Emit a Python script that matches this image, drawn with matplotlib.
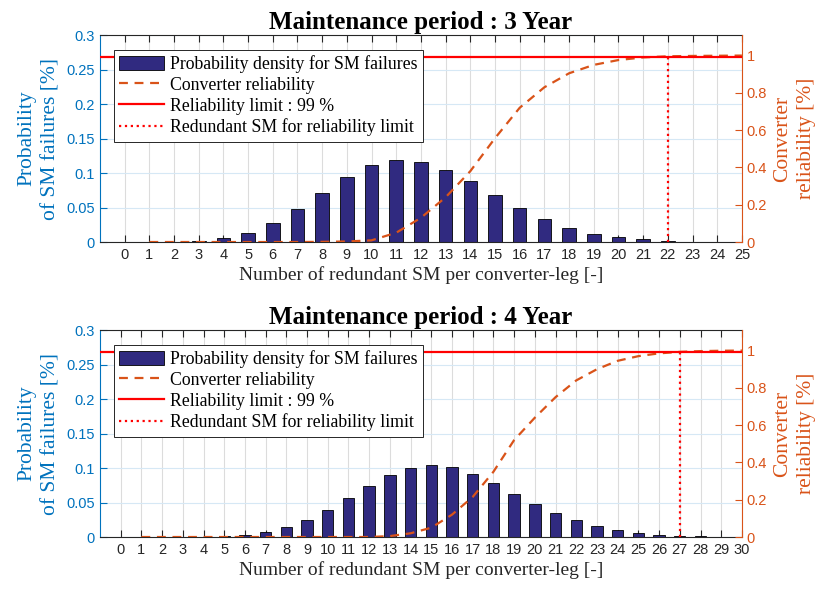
import numpy as np
import matplotlib.pyplot as plt
from matplotlib.lines import Line2D
from matplotlib.patches import Patch

# ---- data ----
titles = ["Maintenance period : 3 Year", "Maintenance period : 4 Year"]

sm_3y = list(range(0, 26))
density_3y = [0.0, 0.0, 0.0002, 0.0012, 0.006, 0.0137, 0.028, 0.048, 0.071, 0.094,
              0.112, 0.1195, 0.1166, 0.105, 0.088, 0.068, 0.049, 0.033, 0.0205, 0.012,
              0.0068, 0.0039, 0.0015, 0.0005, 0.0003, 0.0001]
rel_x_3y = list(range(1, 26))
reliability_3y = [0.0, 0.0, 0.0, 0.0, 0.0, 0.0, 0.0, 0.001, 0.003, 0.009,
                  0.05, 0.13, 0.24, 0.38, 0.557, 0.72, 0.83, 0.905, 0.95, 0.976,
                  0.99, 0.996, 0.998, 0.999, 1.0]

sm_4y = list(range(0, 31))
density_4y = [0.0, 0.0, 0.0, 0.0, 0.0002, 0.001, 0.003, 0.007, 0.014, 0.025,
              0.039, 0.057, 0.074, 0.090, 0.100, 0.104, 0.1015, 0.092, 0.078, 0.063,
              0.048, 0.035, 0.024, 0.0155, 0.0097, 0.0058, 0.0034, 0.0015, 0.0008, 0.0004,
              0.0002]
rel_x_4y = list(range(1, 31))
reliability_4y = [0.0, 0.0, 0.0, 0.0, 0.0, 0.0, 0.0, 0.0, 0.0, 0.0,
                  0.0, 0.0, 0.005, 0.02, 0.05, 0.12, 0.215, 0.35, 0.52, 0.64,
                  0.75, 0.84, 0.90, 0.945, 0.97, 0.985, 0.993, 0.997, 0.999, 1.0]

reliability_limit = 0.99
redundant_sm = [22, 27]

# ---- style ----
blue = '#0072BD'
orange = '#D95319'
bar_color = '#302a80'
dark = '#262626'
serif = 'Liberation Serif'
sans = 'Liberation Sans'

fig = plt.figure(figsize=(8.18, 5.90), dpi=100)
rects = [[0.1222, 0.5898, 0.7848, 0.3508], [0.1222, 0.0898, 0.7848, 0.3508]]

panels = [(sm_3y, density_3y, rel_x_3y, reliability_3y),
          (sm_4y, density_4y, rel_x_4y, reliability_4y)]

for i, (sm, dens, rx, rel) in enumerate(panels):
    ax = fig.add_axes(rects[i])
    ax.bar(sm, dens, width=0.55, color=bar_color, edgecolor='black', linewidth=0.6, zorder=2)
    ax.set_xlim(-1, sm[-1])
    ax.set_ylim(0, 0.3)
    ax.set_xticks(sm)
    ax.set_yticks(np.arange(0, 0.31, 0.05))
    ax.set_yticklabels(['0', '0.05', '0.1', '0.15', '0.2', '0.25', '0.3'])
    ax.grid(axis='x', color='#dcdcdc', linewidth=0.8, zorder=0)
    ax.grid(axis='y', color='#d6e8f5', linewidth=0.8, zorder=0)
    ax.set_axisbelow(True)
    ax.tick_params(axis='x', direction='in', length=5, top=True, colors=dark,
                   labelcolor=dark, labelsize=10.5, pad=4.5)
    ax.tick_params(axis='y', direction='in', length=5, colors=blue, labelsize=10.5)
    for t in ax.get_xticklabels() + ax.get_yticklabels():
        t.set_fontfamily(sans)
    ax.spines['left'].set_color(blue)
    ax.spines['top'].set_color(dark)
    ax.spines['bottom'].set_color(dark)
    ax.spines['right'].set_visible(False)
    ax.set_xlabel("Number of redundant SM per converter-leg [-]", family=serif,
                  fontsize=14, color=dark, labelpad=3)
    ax.set_ylabel("Probability\nof SM failures [%]", family=serif, fontsize=15.5,
                  color=blue, linespacing=1.4, labelpad=4)
    ax.set_title(titles[i], family=serif, fontsize=18, fontweight='bold', pad=4)

    ax2 = ax.twinx()
    ax2.set_ylim(0, 1.11)
    ax2.set_yticks([0, 0.2, 0.4, 0.6, 0.8, 1.0])
    ax2.set_yticklabels(['0', '0.2', '0.4', '0.6', '0.8', '1'])
    ax2.tick_params(axis='y', direction='in', length=5, colors=orange, labelsize=10.5)
    for t in ax2.get_yticklabels():
        t.set_fontfamily(sans)
    ax2.spines['right'].set_color(orange)
    ax2.spines['left'].set_visible(False)
    ax2.spines['top'].set_visible(False)
    ax2.spines['bottom'].set_visible(False)
    ax2.set_ylabel("Converter\nreliability [%]", family=serif, fontsize=15.5,
                   color=orange, linespacing=1.4, labelpad=4)

    ax2.plot(rx, rel, '--', color=orange, linewidth=1.6, dashes=(4, 3), zorder=3)
    ax2.axhline(reliability_limit, color='red', linewidth=1.6, zorder=3)
    ax2.vlines(redundant_sm[i], 0, reliability_limit, colors='red', linestyles=':',
               linewidth=1.6, zorder=3)

    handles = [Patch(facecolor=bar_color, edgecolor='black', linewidth=0.6),
               Line2D([], [], color=orange, linestyle='--', dashes=(4, 3), linewidth=1.6),
               Line2D([], [], color='red', linewidth=1.6),
               Line2D([], [], color='red', linestyle=':', linewidth=1.6)]
    labels = ["Probability density for SM failures", "Converter reliability",
              "Reliability limit : 99 %", "Redundant SM for reliability limit"]
    leg = ax2.legend(handles, labels, loc='upper left', bbox_to_anchor=(0.022, 0.928),
                     prop={'family': serif, 'size': 12.8}, fancybox=False,
                     framealpha=1, edgecolor=dark, borderpad=0.3, labelspacing=0.2,
                     handlelength=2.5, handleheight=0.85, handletextpad=0.35,
                     borderaxespad=0)
    leg.get_frame().set_linewidth(0.7)
    leg.set_zorder(10)

fig.savefig('out.png', dpi=100)
